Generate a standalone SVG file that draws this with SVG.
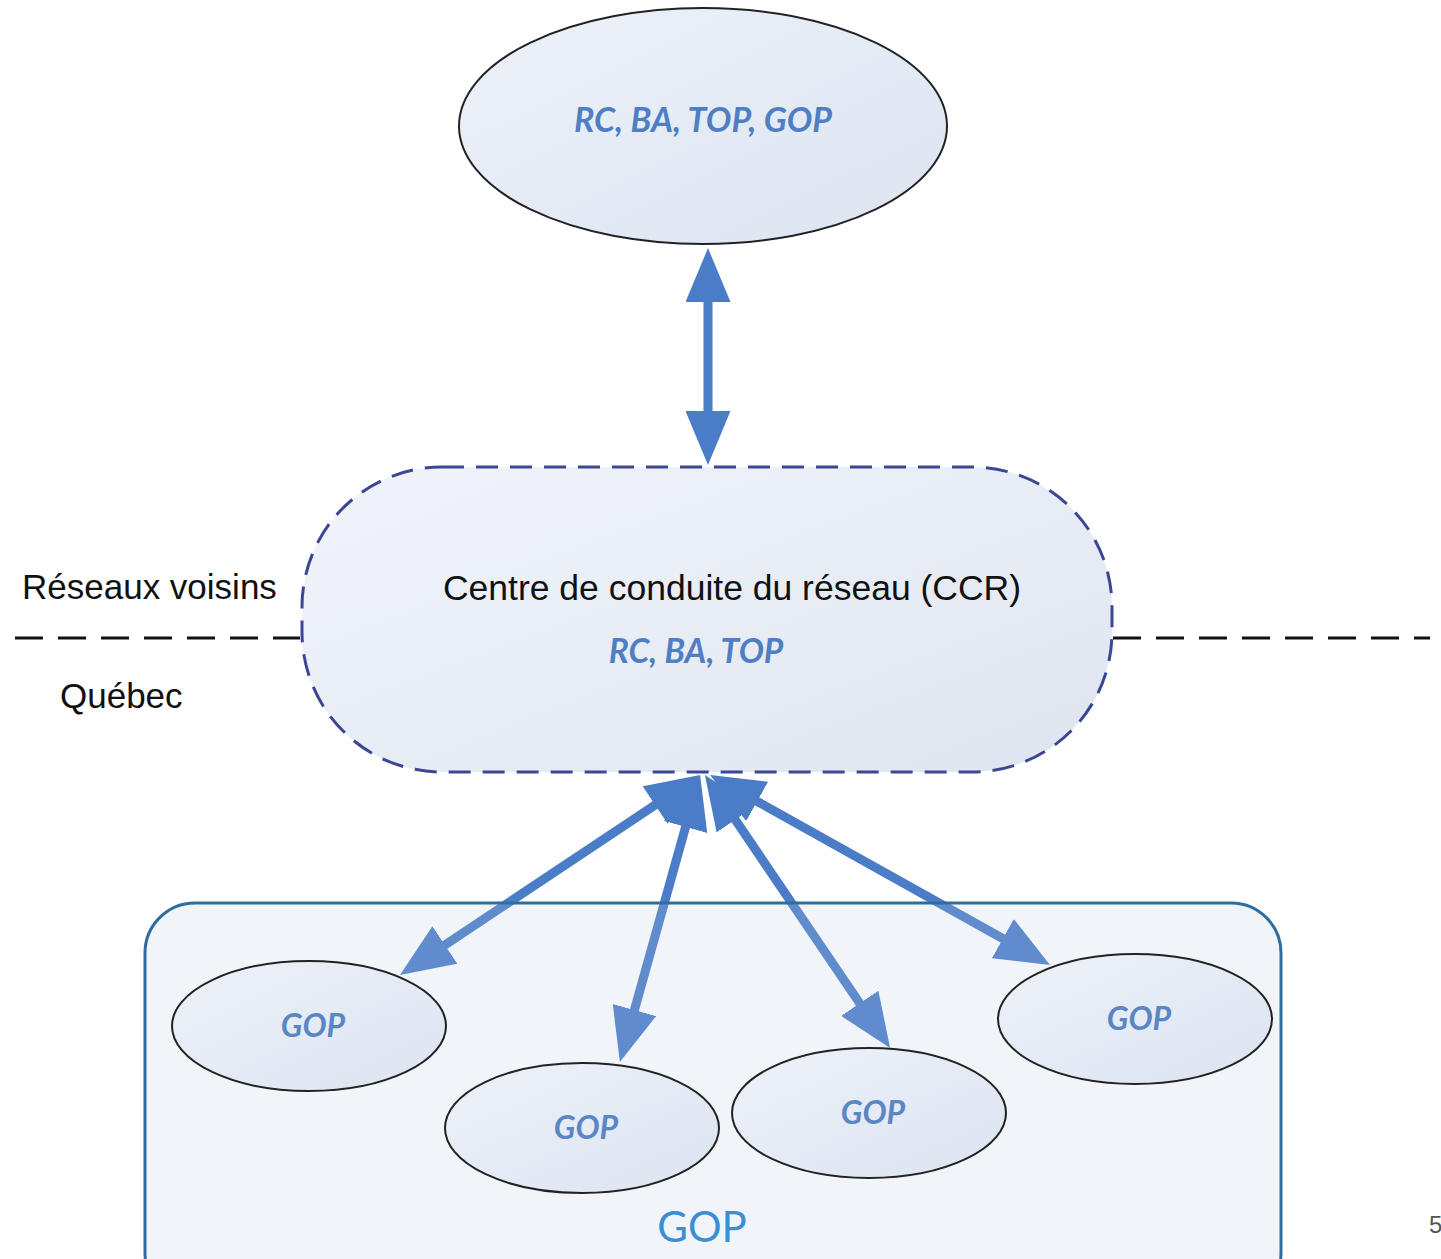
<svg xmlns="http://www.w3.org/2000/svg" width="1441" height="1259" viewBox="0 0 1441 1259">
<style>
.lbl{font-family:"Liberation Sans",Arial,sans-serif;fill:#111;}
.it{font-family:Lato,"Open Sans",sans-serif;font-style:italic;font-weight:bold;fill:#4f7fc2;}
.gop{font-family:Lato,"Open Sans",sans-serif;font-style:italic;font-weight:bold;fill:#5a86c4;font-size:32px;}
.ell{fill:url(#gEll);stroke:#222;stroke-width:2;}
.conn{stroke:#4a7cc7;stroke-width:9;fill:none;marker-start:url(#ah);marker-end:url(#ah);}
</style>
<defs>
<linearGradient id="gEll" x1="0" y1="0" x2="1" y2="1">
<stop offset="0" stop-color="#eef2f9"/><stop offset="1" stop-color="#dbe4f1"/>
</linearGradient>
<linearGradient id="gCcr" x1="0" y1="0" x2="1" y2="1">
<stop offset="0" stop-color="#f1f4fa"/><stop offset="1" stop-color="#dfe5f0"/>
</linearGradient>
<marker id="ah" viewBox="0 0 6 5" refX="1" refY="2.5" markerWidth="6" markerHeight="5" markerUnits="strokeWidth" orient="auto-start-reverse">
<path d="M0,0 L6,2.5 L0,5 z" fill="#4a7cc7"/>
</marker>
</defs>

<g id="connectors">
<line class="conn" x1="708" y1="293" x2="708" y2="420"/>
<line class="conn" x1="662.6" y1="800" x2="437.4" y2="950"/>
<line class="conn" x1="688" y1="818.3" x2="632" y2="1018.7"/>
<line class="conn" x1="730.2" y1="812.3" x2="864.8" y2="1010.7"/>
<line class="conn" x1="749.3" y1="797" x2="1010.7" y2="943"/>
</g>

<g id="boundary">
<line x1="15" y1="638" x2="300" y2="638" stroke="#111" stroke-width="3" stroke-dasharray="28 15"/>
<line x1="1113" y1="638" x2="1430" y2="638" stroke="#111" stroke-width="3" stroke-dasharray="28 15"/>
<text class="lbl" x="22" y="599" font-size="35">Réseaux voisins</text>
<text class="lbl" x="60" y="708" font-size="35">Québec</text>
</g>

<g id="top">
<ellipse class="ell" cx="703" cy="126" rx="244" ry="118"/>
<text class="it" x="703" y="132" font-size="34" text-anchor="middle">RC, BA, TOP, GOP</text>
</g>

<g id="ccr">
<rect x="302" y="467" width="810" height="305" rx="140" ry="140" fill="url(#gCcr)" stroke="#3b4694" stroke-width="3" stroke-dasharray="22 12"/>
<text class="lbl" x="732" y="600" font-size="35.5" text-anchor="middle">Centre de conduite du réseau (CCR)</text>
<text class="it" x="696" y="663" font-size="33.5" text-anchor="middle">RC, BA, TOP</text>
</g>

<g id="gop-group">
<rect x="145" y="903" width="1136" height="400" rx="50" ry="50" fill="#b8cfe8" fill-opacity="0.2" stroke="#2e6e9e" stroke-width="3"/>
<text x="702" y="1242" font-family="Lato,'Open Sans',sans-serif" font-size="42" fill="#3a8fd4" text-anchor="middle">GOP</text>
</g>

<g id="gop1">
<ellipse class="ell" cx="309" cy="1026" rx="137" ry="65"/>
<text class="gop" x="313" y="1037" text-anchor="middle">GOP</text>
</g>
<g id="gop2">
<ellipse class="ell" cx="582" cy="1128" rx="137" ry="65"/>
<text class="gop" x="586" y="1139" text-anchor="middle">GOP</text>
</g>
<g id="gop3">
<ellipse class="ell" cx="869" cy="1113" rx="137" ry="65"/>
<text class="gop" x="873" y="1124" text-anchor="middle">GOP</text>
</g>
<g id="gop4">
<ellipse class="ell" cx="1135" cy="1019" rx="137" ry="65"/>
<text class="gop" x="1139" y="1030" text-anchor="middle">GOP</text>
</g>

<text x="1429" y="1233" font-family="'Liberation Sans',sans-serif" font-size="24" fill="#555">5</text>
</svg>
